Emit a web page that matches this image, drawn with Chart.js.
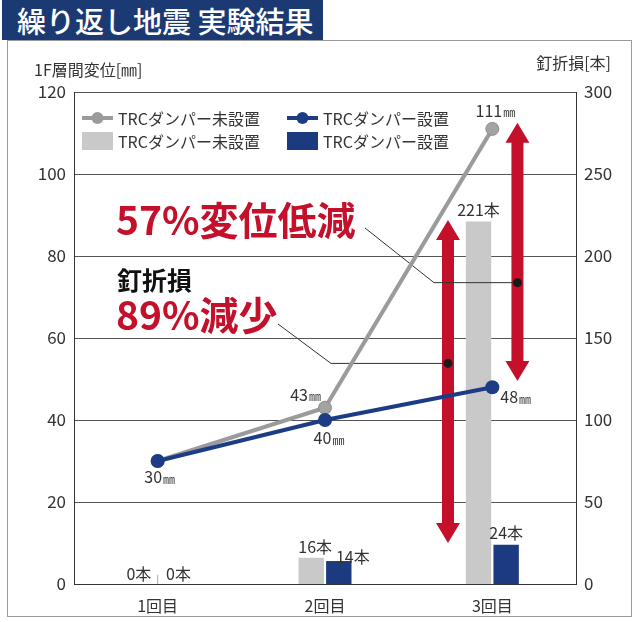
<!DOCTYPE html>
<html><head><meta charset="utf-8">
<script src="https://cdn.jsdelivr.net/npm/chart.js@4.4.1/dist/chart.umd.min.js"></script>
<style>
html,body{margin:0;padding:0;background:#fff;}
#wrap{position:relative;width:639px;height:622px;overflow:hidden;}
#frame{position:absolute;left:7px;top:40px;width:625px;height:577px;border:1px solid #9a9a9a;box-sizing:border-box;}
#banner{position:absolute;left:2px;top:0;width:321px;height:40px;background:#1b3a73;color:#fff;
font-family:"Noto Sans CJK JP";font-size:29px;font-weight:500;line-height:40px;padding-left:15px;box-sizing:border-box;white-space:nowrap;}
canvas{position:absolute;left:0;top:0;}
</style></head>
<body><div id="wrap"><div id="frame"></div><div id="banner">繰り返し地震 実験結果</div><canvas id="c" width="639" height="622"></canvas></div>
<script>
const categories = ['1回目','2回目','3回目'];
const dispNoDamper = [30, 43, 111];   // 1F層間変位 [mm], TRCダンパー未設置
const dispDamper = [30, 40, 48];      // 1F層間変位 [mm], TRCダンパー設置
const nailsNoDamper = [0, 16, 221];   // 釘折損 [本], TRCダンパー未設置
const nailsDamper = [0, 14, 24];      // 釘折損 [本], TRCダンパー設置
const leftTicks = [0, 20, 40, 60, 80, 100, 120];
const rightTicks = [0, 50, 100, 150, 200, 250, 300];
const seriesNames = ['TRCダンパー未設置', 'TRCダンパー設置'];

const FONT = '"Noto Sans CJK JP"';
const GRAYL = '#9b9b9b', NAVY = '#1c3d86', GRAYB = '#c9c9c9', NAVYB = '#1c3a80', RED = '#c4102a', TXT = '#333';

function xAt(chart, frac) {
  const s = chart.scales.x;
  const p0 = s.getPixelForTick(0), p1 = s.getPixelForTick(1);
  return p0 + (p1 - p0) * frac;
}

function arrow(ctx, x, y1, y2) {
  const sw = 6, hw = 12, hl = 20;
  ctx.fillStyle = RED;
  ctx.beginPath();
  ctx.moveTo(x, y1);
  ctx.lineTo(x + hw, y1 + hl); ctx.lineTo(x + sw, y1 + hl);
  ctx.lineTo(x + sw, y2 - hl); ctx.lineTo(x + hw, y2 - hl);
  ctx.lineTo(x, y2);
  ctx.lineTo(x - hw, y2 - hl); ctx.lineTo(x - sw, y2 - hl);
  ctx.lineTo(x - sw, y1 + hl); ctx.lineTo(x - hw, y1 + hl);
  ctx.closePath(); ctx.fill();
}

let annotDrawn = false;
const annotPlugin = {
  id: 'annot',
  beforeDraw(chart) { annotDrawn = false; },
  beforeDatasetDraw(chart, args) {
    if (annotDrawn || chart.data.datasets[args.index].type !== 'line') return;
    annotDrawn = true;
    const ctx = chart.ctx, yL = chart.scales.yL, yR = chart.scales.yR;
    ctx.save();
    const xA = xAt(chart, 1.735), xB = xAt(chart, 2.15);
    arrow(ctx, xA, yR.getPixelForValue(222), yR.getPixelForValue(25));
    arrow(ctx, xB, yL.getPixelForValue(112.5), yL.getPixelForValue(49.5));
    const dA = yR.getPixelForValue(134.5), dB = yL.getPixelForValue(73.5);
    ctx.strokeStyle = '#333'; ctx.lineWidth = 1;
    ctx.beginPath();
    ctx.moveTo(365, 228); ctx.lineTo(434, dB); ctx.lineTo(xB, dB);
    ctx.moveTo(278, 324); ctx.lineTo(331, dA); ctx.lineTo(xA, dA);
    ctx.stroke();
    ctx.fillStyle = '#1a1a1a';
    ctx.beginPath(); ctx.arc(xB, dB, 4.5, 0, Math.PI * 2); ctx.fill();
    ctx.beginPath(); ctx.arc(xA, dA, 4.5, 0, Math.PI * 2); ctx.fill();
    ctx.restore();
  },
  afterDatasetsDraw(chart) {
    const ctx = chart.ctx;
    ctx.save();
    // red callouts
    ctx.textBaseline = 'alphabetic'; ctx.textAlign = 'left';
    ctx.fillStyle = RED; ctx.font = 'bold 39px ' + FONT;
    ctx.fillText('57%変位低減', 116, 235);
    ctx.fillText('89%減少', 116, 330);
    ctx.fillStyle = '#111'; ctx.font = 'bold 25px ' + FONT;
    ctx.fillText('釘折損', 117, 290);
    // legend
    ctx.font = '16px ' + FONT; ctx.fillStyle = TXT; ctx.textBaseline = 'middle';
    const lx = [82, 287], ly = [118, 141];
    const lineCols = [GRAYL, NAVY], barCols = [GRAYB, NAVYB];
    for (let k = 0; k < 2; k++) {
      ctx.strokeStyle = lineCols[k]; ctx.lineWidth = 4;
      ctx.beginPath(); ctx.moveTo(lx[k], ly[0]); ctx.lineTo(lx[k] + 31, ly[0]); ctx.stroke();
      ctx.fillStyle = lineCols[k];
      ctx.beginPath(); ctx.arc(lx[k] + 15.5, ly[0], 6, 0, Math.PI * 2); ctx.fill();
      ctx.fillStyle = barCols[k];
      ctx.fillRect(lx[k], ly[1] - 9, 31, 18);
      ctx.fillStyle = TXT;
      ctx.fillText(seriesNames[k], lx[k] + 36, ly[0] + 1);
      ctx.fillText(seriesNames[k], lx[k] + 36, ly[1] + 1);
    }
    // point labels
    const mm = (v, x, y, align) => {
      ctx.textAlign = 'left'; ctx.textBaseline = 'middle';
      const t1 = String(v);
      ctx.font = '16px ' + FONT; const w1 = ctx.measureText(t1).width;
      ctx.font = '12px ' + FONT; const w2 = ctx.measureText('㎜').width + 1;
      const w = w1 + w2;
      let x0 = align === 'center' ? x - w / 2 : align === 'right' ? x - w : x;
      ctx.fillStyle = TXT;
      ctx.font = '16px ' + FONT; ctx.fillText(t1, x0, y);
      ctx.font = '12px ' + FONT; ctx.fillText('㎜', x0 + w1 + 1, y + 2);
    };
    const mg = chart.getDatasetMeta(0).data, mn = chart.getDatasetMeta(1).data;
    mm(dispDamper[0], mn[0].x + 2, mn[0].y + 16, 'center');
    mm(dispNoDamper[1], mg[1].x - 4, mg[1].y - 13, 'right');
    mm(dispDamper[1], mn[1].x + 4, mn[1].y + 18, 'center');
    mm(dispNoDamper[2], mg[2].x + 3, mg[2].y - 18, 'center');
    mm(dispDamper[2], mn[2].x + 8, mn[2].y + 10, 'left');
    // bar labels
    ctx.font = '16px ' + FONT; ctx.fillStyle = TXT; ctx.textAlign = 'center'; ctx.textBaseline = 'middle';
    const bg = chart.getDatasetMeta(2).data, bn = chart.getDatasetMeta(3).data;
    ctx.fillText(nailsNoDamper[0] + '本', bg[0].x - 5, bg[0].y - 10);
    ctx.fillText(nailsDamper[0] + '本', bn[0].x + 7, bn[0].y - 10);
    ctx.fillText(nailsNoDamper[1] + '本', bg[1].x + 4, bg[1].y - 11);
    ctx.fillText(nailsDamper[1] + '本', bn[1].x + 14, bn[1].y - 4);
    ctx.fillText(nailsNoDamper[2] + '本', bg[2].x, bg[2].y - 12);
    ctx.fillText(nailsDamper[2] + '本', bn[2].x, bn[2].y - 12);
    // tiny separator at 1回目
    ctx.strokeStyle = '#aaa'; ctx.lineWidth = 1;
    const x0 = chart.scales.x.getPixelForTick(0);
    ctx.beginPath(); ctx.moveTo(x0, bg[0].y - 9); ctx.lineTo(x0, bg[0].y); ctx.stroke();
    // axis titles
    ctx.textAlign = 'left'; ctx.font = '16px ' + FONT; ctx.fillStyle = TXT;
    ctx.fillText('1F層間変位[㎜]', 34, 70);
    ctx.textAlign = 'right';
    ctx.fillText('釘折損[本]', 611, 63);
    ctx.restore();
  }
};

new Chart(document.getElementById('c'), {
  data: {
    labels: categories,
    datasets: [
      { type: 'line', label: seriesNames[0] + '(変位)', data: dispNoDamper, yAxisID: 'yL', order: 0.5,
        borderColor: GRAYL, borderWidth: 4, pointRadius: 6.5, pointBackgroundColor: '#a3a3a3',
        pointBorderColor: '#8e8e8e', pointBorderWidth: 1, tension: 0 },
      { type: 'line', label: seriesNames[1] + '(変位)', data: dispDamper, yAxisID: 'yL', order: 0,
        borderColor: NAVY, borderWidth: 4, pointRadius: 7, pointBackgroundColor: NAVY,
        pointBorderColor: NAVY, pointBorderWidth: 0, tension: 0 },
      { type: 'bar', label: seriesNames[0] + '(釘折損)', data: nailsNoDamper, yAxisID: 'yR', order: 1,
        backgroundColor: GRAYB, categoryPercentage: 0.33, barPercentage: 0.92 },
      { type: 'bar', label: seriesNames[1] + '(釘折損)', data: nailsDamper, yAxisID: 'yR', order: 1,
        backgroundColor: NAVYB, categoryPercentage: 0.33, barPercentage: 0.92 }
    ]
  },
  options: {
    responsive: false, animation: false, devicePixelRatio: 1,
    layout: { padding: { left: 0, right: 0, top: 92, bottom: 0 } },
    plugins: { legend: { display: false }, tooltip: { enabled: false } },
    scales: {
      x: {
        type: 'category', offset: true,
        grid: { display: false },
        border: { display: true, color: '#333', width: 1 },
        ticks: { color: TXT, font: { family: FONT, size: 16 }, padding: 4 },
        afterFit(s) { s.height = 38; }
      },
      yL: {
        position: 'left', min: 0, max: 120,
        afterBuildTicks(s) { s.ticks = leftTicks.map(v => ({ value: v })); },
        grid: { color: '#555', lineWidth: 1, drawTicks: false },
        border: { display: true, color: '#333', width: 1 },
        ticks: { color: TXT, font: { family: FONT, size: 17 }, padding: 8 },
        afterFit(s) { s.width = 74; }
      },
      yR: {
        position: 'right', min: 0, max: 300,
        afterBuildTicks(s) { s.ticks = rightTicks.map(v => ({ value: v })); },
        grid: { display: false, drawTicks: false },
        border: { display: true, color: '#333', width: 1 },
        ticks: { color: TXT, font: { family: FONT, size: 17 }, padding: 8 },
        afterFit(s) { s.width = 63; }
      }
    }
  },
  plugins: [annotPlugin]
});
</script></body></html>
